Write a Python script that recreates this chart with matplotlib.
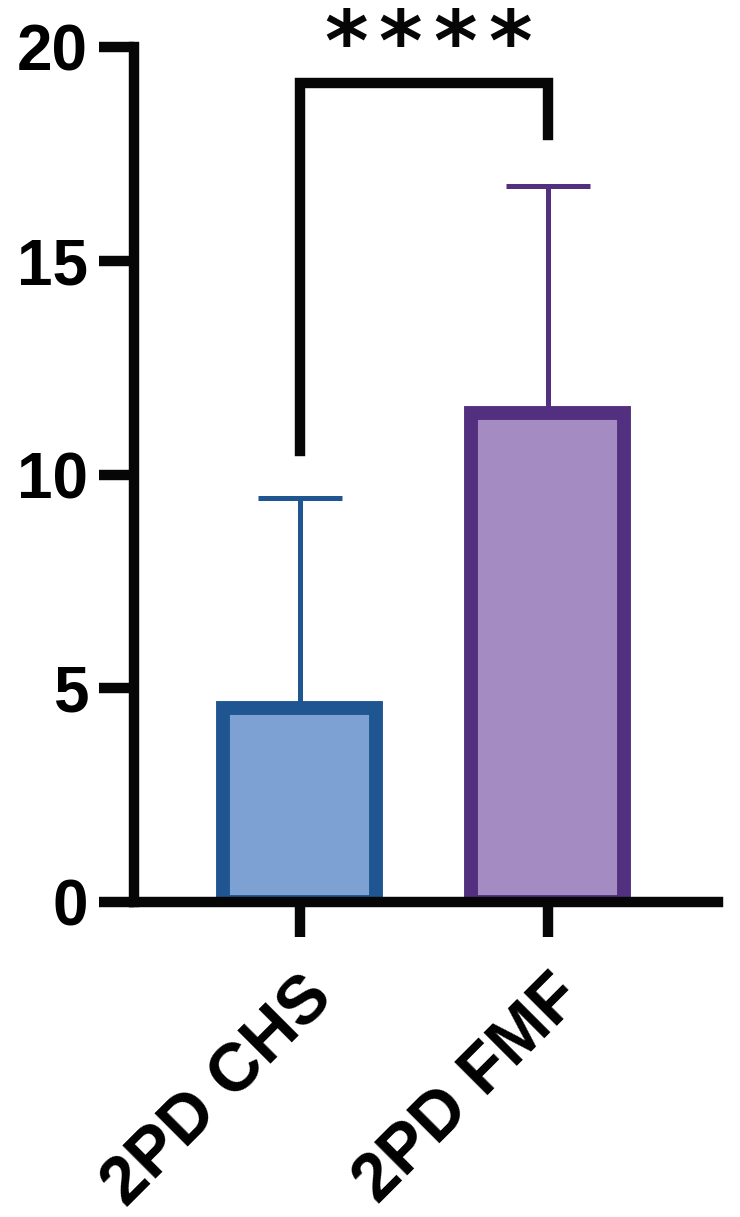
import matplotlib

matplotlib.use("Agg")
import matplotlib.pyplot as plt

# values
groups = ["2PD CHS", "2PD FMF"]
means = [4.55, 11.45]
sd_upper = [4.9, 5.3]
fill_colors = ["#7EA1D3", "#A48BC1"]
edge_colors = ["#1F5591", "#52307F"]
y_ticks = [0, 5, 10, 15, 20]

# significance bracket: left foot, top, right foot
bracket_y = [10.55, 19.15, 17.95]
stars = "****"

plt.rcParams["font.family"] = ["Liberation Sans", "DejaVu Sans"]
plt.rcParams["font.weight"] = "bold"

fig = plt.figure(figsize=(7.4, 12.17), dpi=100)
ax = fig.add_axes([0.181, 0.2588, 0.789, 0.7026])

x = list(range(len(groups)))
for i in x:
    ax.errorbar(
        i, means[i], yerr=[[0], [sd_upper[i]]], fmt="none",
        ecolor=edge_colors[i], elinewidth=3.6, capsize=30, capthick=3.6, zorder=1,
    )
    ax.bar(
        i, means[i], width=0.617, color=fill_colors[i], edgecolor=edge_colors[i],
        linewidth=10, zorder=2,
    )

ax.plot([0, 0, 1, 1], [bracket_y[0], bracket_y[1], bracket_y[1], bracket_y[2]],
        color="#060606", linewidth=7.5, solid_joinstyle="miter", clip_on=False, zorder=3)

# the stars sit spread out above the bracket, one glyph each
star_step = 0.22
star_x0 = 0.516 - star_step * (len(stars) - 1) / 2
for k, s in enumerate(stars):
    ax.text(star_x0 + k * star_step, 20.95, s, ha="center", va="top",
            fontsize=60, fontweight="bold", family="DejaVu Sans", color="#060606",
            clip_on=False)

ax.set_xlim(-0.669, 1.685)
ax.set_ylim(0, 20)
ax.set_yticks(y_ticks)
ax.set_xticks(x)
ax.set_xticklabels(groups, rotation=45, ha="right", va="top", rotation_mode="anchor")

for side in ["top", "right"]:
    ax.spines[side].set_visible(False)
for side in ["left", "bottom"]:
    ax.spines[side].set_linewidth(7.5)
    ax.spines[side].set_color("#060606")
    ax.spines[side].set_capstyle("projecting")

ax.tick_params(axis="both", length=25, width=7.5, color="#060606", labelcolor="black")
ax.tick_params(axis="y", pad=8, labelsize=46)
ax.tick_params(axis="x", pad=20, labelsize=49)

fig.savefig("out.png", dpi=100)
